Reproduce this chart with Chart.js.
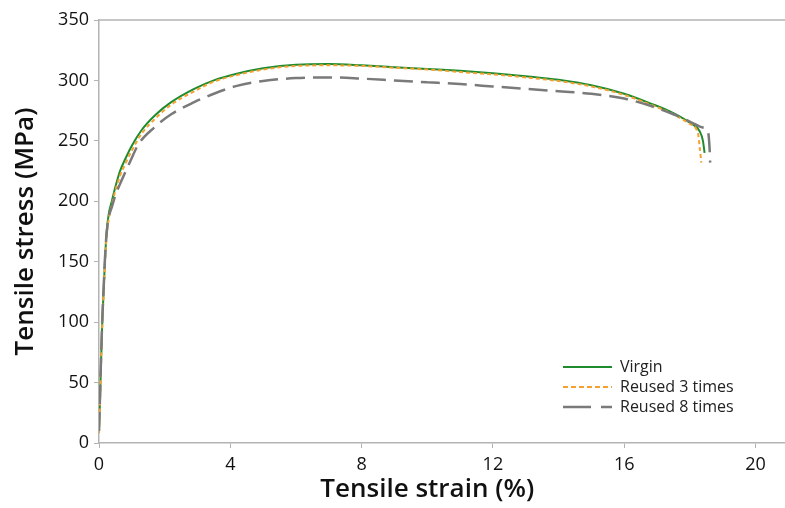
<!DOCTYPE html>
<html>
<head>
<meta charset="utf-8">
<script src="https://cdn.jsdelivr.net/npm/chart.js@4.4.0/dist/chart.umd.min.js"></script>
<style>
  html, body { margin: 0; padding: 0; background: #fff; }
  #wrap { width: 785px; height: 508px; position: relative; }
</style>
</head>
<body>
<div id="wrap"><canvas id="stressChart"></canvas></div>
<script>
// strain (%) and stress (MPa)
const virginX = [0, 0.03, 0.06, 0.1, 0.14, 0.18, 0.23, 0.3, 0.39, 0.5, 0.64, 0.8, 1.0, 1.3, 1.7, 2.2, 2.9, 3.5, 4.2, 5.0, 6.0, 7.0, 8.0, 9.0, 10.0, 11.0, 12.0, 13.0, 14.0, 15.0, 16.0, 16.8, 17.5, 18.0, 18.3, 18.4, 18.45];
const virginY = [10, 35, 65, 100, 125, 150, 174, 190, 200, 212, 225, 235, 246, 259, 271, 282, 293, 300, 305.5, 310, 313, 313.5, 312.5, 311, 309.5, 308, 306, 303.5, 300.5, 296, 289, 281, 273, 265, 258, 250, 240];

const reused3X = [0, 0.03, 0.06, 0.1, 0.14, 0.18, 0.23, 0.3, 0.39, 0.5, 0.64, 0.8, 1.0, 1.3, 1.7, 2.2, 2.9, 3.5, 4.2, 5.0, 6.0, 7.0, 8.0, 9.0, 10.0, 11.0, 12.0, 13.0, 14.0, 15.0, 16.0, 16.8, 17.5, 18.0, 18.25, 18.3, 18.35];
const reused3Y = [8, 33, 62, 97, 122, 147, 170, 186, 197, 209, 221, 231, 242, 256, 268, 280, 291, 299, 304.5, 309, 312, 312.5, 312, 310.5, 309, 307, 305, 302.5, 299.5, 295, 288, 280, 272, 264, 256, 245, 232];

const reused8X = [0, 0.03, 0.06, 0.1, 0.14, 0.18, 0.23, 0.3, 0.4, 0.5, 0.65, 0.8, 0.95, 1.2, 1.68, 2.2, 2.9, 3.5, 4.2, 5.0, 6.0, 7.0, 8.0, 9.0, 10, 11, 12, 13, 14, 15, 16, 16.8, 17.5, 18.0, 18.4, 18.55, 18.6, 18.62];
const reused8Y = [10, 38, 68, 103, 128, 152, 173, 187, 196, 205, 215, 224, 233, 247, 261, 272, 282, 289, 295.5, 299.5, 302, 302.5, 301.5, 300, 298.5, 297, 295, 293, 291, 289, 285, 279, 272, 266, 261, 258, 245, 232];

const xTicks = [0, 4, 8, 12, 16, 20];
const yTicks = [0, 50, 100, 150, 200, 250, 300, 350];

const seriesNames = ['Virgin', 'Reused 3 times', 'Reused 8 times'];

function toPoints(xs, ys) {
  return xs.map((x, i) => ({ x: x, y: ys[i] }));
}

const axisColor = '#b3b3b3';
const font = "'Open Sans', 'Noto Sans', sans-serif";
const legendDash = [[], [5, 3], [28, 10]];

// top frame line, x title and legend inside the plot
const extras = {
  id: 'extras',
  afterDraw(chart) {
    const ctx = chart.ctx;
    const area = chart.chartArea;
    const xs = chart.scales.x;
    ctx.save();
    ctx.strokeStyle = axisColor;
    ctx.lineWidth = 1.5;
    ctx.beginPath();
    ctx.moveTo(area.left, area.top);
    ctx.lineTo(area.right, area.top);
    ctx.stroke();

    ctx.fillStyle = '#111';
    ctx.font = '600 26px ' + font;
    ctx.textAlign = 'center';
    ctx.textBaseline = 'middle';
    ctx.fillText('Tensile strain (%)', xs.getPixelForValue(10), 490);

    const sets = chart.data.datasets;
    let y = 367;
    sets.forEach((ds, i) => {
      ctx.strokeStyle = ds.borderColor;
      ctx.lineWidth = ds.borderWidth;
      ctx.setLineDash(legendDash[i]);
      ctx.beginPath();
      ctx.moveTo(563, y);
      ctx.lineTo(612, y);
      ctx.stroke();
      ctx.setLineDash([]);
      ctx.fillStyle = '#222';
      ctx.font = '16px ' + font;
      ctx.textAlign = 'left';
      ctx.textBaseline = 'middle';
      ctx.fillText(ds.label, 620, y);
      y += 20;
    });
    ctx.restore();
  }
};

const ctx = document.getElementById('stressChart').getContext('2d');
new Chart(ctx, {
  type: 'line',
  data: {
    datasets: [{
      label: seriesNames[0],
      data: toPoints(virginX, virginY),
      borderColor: '#1e8c2e',
      borderWidth: 2,
      order: 3
    }, {
      label: seriesNames[1],
      data: toPoints(reused3X, reused3Y),
      borderColor: '#f5a030',
      borderWidth: 2,
      borderDash: [4, 3],
      order: 2
    }, {
      label: seriesNames[2],
      data: toPoints(reused8X, reused8Y),
      borderColor: '#7a7a7a',
      borderWidth: 2.5,
      borderDash: [19, 8],
      order: 1
    }]
  },
  options: {
    responsive: true,
    maintainAspectRatio: false,
    animation: false,
    layout: { padding: { top: 20, right: 0, left: 0, bottom: 0 } },
    elements: {
      point: { radius: 0 },
      line: { cubicInterpolationMode: 'monotone' }
    },
    plugins: {
      legend: { display: false },
      tooltip: { enabled: false }
    },
    scales: {
      x: {
        type: 'linear',
        min: 0,
        max: 20.9,
        afterFit: s => { s.height = 65; },
        afterBuildTicks: s => { s.ticks = xTicks.map(v => ({ value: v })); },
        border: { color: axisColor, width: 1.5 },
        grid: { drawOnChartArea: false, color: axisColor, tickLength: 5 },
        ticks: { color: '#111', font: { family: font, size: 18 }, padding: 6, maxRotation: 0 }
      },
      y: {
        min: 0,
        max: 350,
        afterFit: s => { s.width = 99; },
        afterBuildTicks: s => { s.ticks = yTicks.map(v => ({ value: v })); },
        border: { color: axisColor, width: 1.5 },
        grid: { drawOnChartArea: false, color: axisColor, tickLength: 5 },
        ticks: { color: '#111', font: { family: font, size: 18 }, padding: 5 },
        title: {
          display: true,
          text: 'Tensile stress (MPa)',
          color: '#111',
          font: { family: font, size: 26, weight: '600' },
          padding: { top: 10, bottom: 0 }
        }
      }
    }
  },
  plugins: [extras]
});
</script>
</body>
</html>
